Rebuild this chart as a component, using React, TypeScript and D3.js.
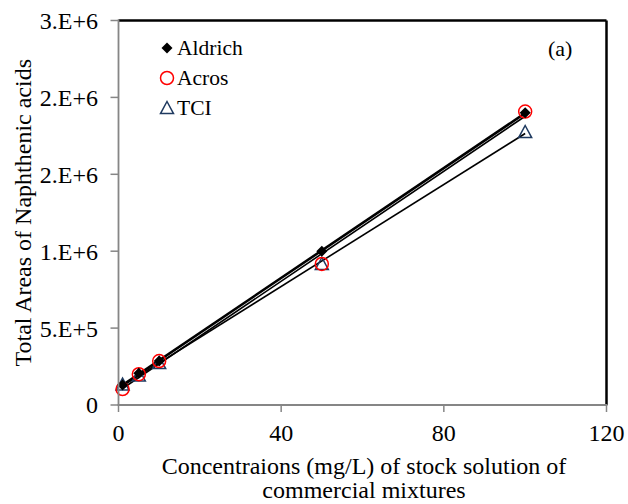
import React from "react";
import * as d3 from "d3";

const xValues = [1, 5, 10, 50, 100];
const aldrich = [130000, 207000, 286000, 1000000, 1900000];
const acros = [104000, 200000, 286000, 917000, 1908000];
const tci = [133000, 192000, 273000, 917000, 1775000];
const xTicks = [0, 40, 80, 120];
const yTicks = [0, 500000, 1000000, 1500000, 2000000, 2500000];
const yTickLabels = ["0", "5.E+5", "1.E+6", "2.E+6", "2.E+6", "3.E+6"];
const legendNames = ["Aldrich", "Acros", "TCI"];

const W = 628, H = 504;
const L = 118.5, R = 606.5, T = 20.5, B = 405;
const FONT = "'Liberation Serif', 'Times New Roman', serif";

function fit(xs: number[], ys: number[]) {
  const mx = d3.mean(xs)!, my = d3.mean(ys)!;
  let num = 0, den = 0;
  xs.forEach((x, i) => { num += (x - mx) * (ys[i] - my); den += (x - mx) ** 2; });
  const m = num / den;
  return { m, b: my - m * mx };
}

export default function App() {
  const x = d3.scaleLinear().domain([0, 120]).range([L, R]);
  const y = d3.scaleLinear().domain([0, 2500000]).range([B, T]);
  const series = [
    { name: legendNames[0], data: aldrich, width: 2.6 },
    { name: legendNames[1], data: acros, width: 1.6 },
    { name: legendNames[2], data: tci, width: 1.6 },
  ];
  const x0 = d3.min(xValues)!, x1 = d3.max(xValues)!;
  const diamond = (cx: number, cy: number, s = 5.5) =>
    `M${cx},${cy - s}L${cx + s},${cy}L${cx},${cy + s}L${cx - s},${cy}Z`;
  const tri = (cx: number, cy: number, s = 6.5) =>
    `M${cx},${cy - s}L${cx + s},${cy + s * 0.85}L${cx - s},${cy + s * 0.85}Z`;
  const triColor = "#1F3A60";

  const marker = (k: number, cx: number, cy: number, key: string) => {
    if (k === 0) return <path key={key} d={diamond(cx, cy)} fill="#000" />;
    if (k === 1) return <circle key={key} cx={cx} cy={cy} r={6.5} fill="none" stroke="#FF0000" strokeWidth={1.5} />;
    return <path key={key} d={tri(cx, cy)} fill="none" stroke={triColor} strokeWidth={1.5} />;
  };

  return (
    <svg width={W} height={H} style={{ position: "absolute", left: 0, top: 0, background: "#fff" }} fontFamily={FONT}>
      <rect x={0} y={0} width={W} height={H} fill="#fff" />
      {series.map((s, i) => {
        const f = fit(xValues, s.data);
        return (
          <line key={"t" + i} x1={x(x0)} y1={y(f.m * x0 + f.b)} x2={x(x1)} y2={y(f.m * x1 + f.b)}
            stroke="#000" strokeWidth={s.width} />
        );
      })}
      {[2, 1, 0].map((k) =>
        xValues.map((xv, j) => marker(k, x(xv), y(series[k].data[j]), `m${k}-${j}`))
      )}
      <line x1={L} y1={T} x2={R} y2={T} stroke="#000" strokeWidth={2.5} />
      <line x1={R} y1={T} x2={R} y2={B} stroke="#000" strokeWidth={2.5} />
      <line x1={L} y1={T - 1} x2={L} y2={B} stroke="#868686" strokeWidth={1.8} />
      <line x1={L - 1} y1={B} x2={R + 1} y2={B} stroke="#868686" strokeWidth={2} />
      {yTicks.map((t, i) => (
        <g key={"y" + i}>
          <line x1={L - 8} x2={L} y1={y(t)} y2={y(t)} stroke="#868686" strokeWidth={1.5} />
          <text x={98} y={y(t)} dy="0.35em" textAnchor="end" fontSize={24} fill="#000">{yTickLabels[i]}</text>
        </g>
      ))}
      {xTicks.map((t) => (
        <g key={"x" + t}>
          <line x1={x(t)} x2={x(t)} y1={B} y2={B + 7} stroke="#868686" strokeWidth={1.5} />
          <text x={x(t)} y={441} textAnchor="middle" fontSize={24} fill="#000">{t}</text>
        </g>
      ))}
      <text x={364} y={474} textAnchor="middle" fontSize={24} fill="#000">Concentraions (mg/L) of stock solution of</text>
      <text x={364} y={498} textAnchor="middle" fontSize={24} fill="#000">commercial mixtures</text>
      <text transform={`translate(31,${(T + B) / 2}) rotate(-90)`} textAnchor="middle" fontSize={24} fill="#000">Total Areas of Naphthenic acids</text>
      {legendNames.map((n, i) => (
        <g key={"l" + i}>
          {marker(i, 167, 48 + i * 30, "lm" + i)}
          <text x={177} y={55 + i * 30} fontSize={21.5} fill="#000">{n}</text>
        </g>
      ))}
      <text x={548} y={56} fontSize={22} fill="#000">(a)</text>
    </svg>
  );
}
